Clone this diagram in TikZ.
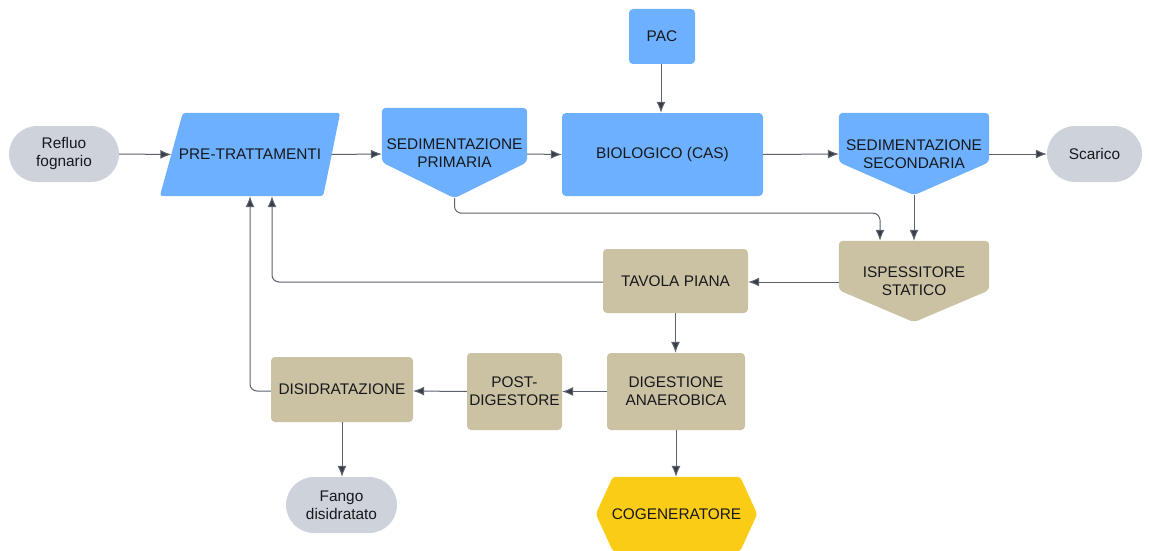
\documentclass[tikz,border=0pt]{standalone}
\usepackage{fontspec}
\setmainfont{Liberation Sans}
\usetikzlibrary{arrows.meta}
\definecolor{bl}{RGB}{108,176,255}
\definecolor{tan}{RGB}{202,194,163}
\definecolor{gr}{RGB}{206,211,219}
\definecolor{yl}{RGB}{250,204,21}
\definecolor{txt}{RGB}{24,24,28}
\definecolor{ln}{RGB}{92,98,108}
\definecolor{hd}{RGB}{55,61,72}
\pgfdeclarelayer{background}
\pgfsetlayers{background,main}
\begin{document}
\begin{tikzpicture}[x=1pt,y=-1pt,
  lbl/.style={inner sep=0pt, align=center, font=\fontsize{15.4}{18}\selectfont, text=txt},
  bx/.style={lbl, rounded corners=4pt},
  pill/.style={lbl, fill=gr, rounded corners=28pt, minimum height=56pt},
  arr/.style={draw=ln, line width=1pt, -{Latex[length=11pt,width=9pt,fill=hd]}, rounded corners=7pt}]
\useasboundingbox (0,0) rectangle (1149,551);

% nodes
\node[pill, minimum width=110pt] (refluo) at (64,154) {Refluo\\fognario};
\node[lbl, minimum width=180pt, minimum height=83pt] (pre) at (250,154.5) {PRE-TRATTAMENTI};
\node[lbl, minimum width=145pt, minimum height=90pt] (sp) at (454.5,153) {SEDIMENTAZIONE\\PRIMARIA};
\node[bx, fill=bl, minimum width=201pt, minimum height=83pt] (bio) at (662.5,154.5) {BIOLOGICO (CAS)};
\node[bx, fill=bl, minimum width=66pt, minimum height=55pt] (pac) at (662,36.5) {PAC};
\node[lbl, minimum width=150pt, minimum height=82pt] (ss) at (914,154) {SEDIMENTAZIONE\\SECONDARIA};
\node[pill, minimum width=95pt] (scarico) at (1094.5,154) {Scarico};
\node[lbl, minimum width=150pt, minimum height=81pt] (isp) at (914,281.5) {ISPESSITORE\\STATICO};
\node[bx, fill=tan, minimum width=145pt, minimum height=64pt] (tav) at (675.5,281) {TAVOLA PIANA};
\node[bx, fill=tan, minimum width=138pt, minimum height=77pt] (dig) at (676,391.5) {DIGESTIONE\\ANAEROBICA};
\node[bx, fill=tan, minimum width=95pt, minimum height=77pt] (post) at (514.5,391.5) {POST-\\DIGESTORE};
\node[bx, fill=tan, minimum width=142pt, minimum height=65pt] (dis) at (342,389.5) {DISIDRATAZIONE};
\node[pill, minimum width=111pt] (fango) at (341.5,505) {Fango\\disidratato};
\node[lbl, minimum width=161pt, minimum height=74pt] (cog) at (676.5,514) {COGENERATORE};

% special shapes
\begin{pgfonlayer}{background}
\fill[bl, rounded corners=3pt] ([xshift=23pt]pre.north west) -- (pre.north east)
  -- ([xshift=-17pt]pre.south east) -- (pre.south west) -- cycle;
\fill[bl, rounded corners=4pt] (sp.north west) -- (sp.north east)
  -- ([yshift=36pt]sp.south east) -- (sp.south) -- ([yshift=36pt]sp.south west) -- cycle;
\fill[bl, rounded corners=4pt] (ss.north west) -- (ss.north east)
  -- ([yshift=33pt]ss.south east) -- (ss.south) -- ([yshift=33pt]ss.south west) -- cycle;
\fill[tan, rounded corners=4pt] (isp.north west) -- (isp.north east)
  -- ([yshift=32pt]isp.south east) -- (isp.south) -- ([yshift=32pt]isp.south west) -- cycle;
\fill[yl, rounded corners=3pt] ([xshift=17pt]cog.north west) -- ([xshift=-17pt]cog.north east)
  -- (cog.east) -- ([xshift=-17pt]cog.south east) -- ([xshift=17pt]cog.south west)
  -- (cog.west) -- cycle;
\end{pgfonlayer}

% connectors
\draw[arr] (refluo.east) -- ([xshift=11.5pt]pre.west);
\draw[arr] ([xshift=-8.5pt]pre.east) -- ([yshift=-1pt]sp.west);
\draw[arr] ([yshift=-1pt]sp.east) -- (bio.west);
\draw[arr] ([xshift=-1pt]pac.south) -- ([xshift=-1.5pt]bio.north);
\draw[arr] (bio.east) -- (ss.west);
\draw[arr] (ss.east) -- (scarico.west);
\draw[arr] (ss.south) -- (isp.north);
\draw[arr] (sp.south) -- ++(0,15) -| ([xshift=-34pt]isp.north);
\draw[arr] ([yshift=-0.5pt]isp.west) -- ([yshift=-1pt]tav.east);
\draw[arr] ([yshift=-1pt]tav.west) -| ([xshift=22pt]pre.south);
\draw[arr] (tav.south) -- (tav.south |- dig.north);
\draw[arr] (dig.west) -- (post.east);
\draw[arr] (post.west) -- ([yshift=-1.5pt]dis.east);
\draw[arr] ([yshift=-1.5pt]dis.west) -| (pre.south);
\draw[arr] (dis.south) -- (dis.south |- fango.north);
\draw[arr] (dig.south) -- (dig.south |- cog.north);
\end{tikzpicture}
\end{document}
